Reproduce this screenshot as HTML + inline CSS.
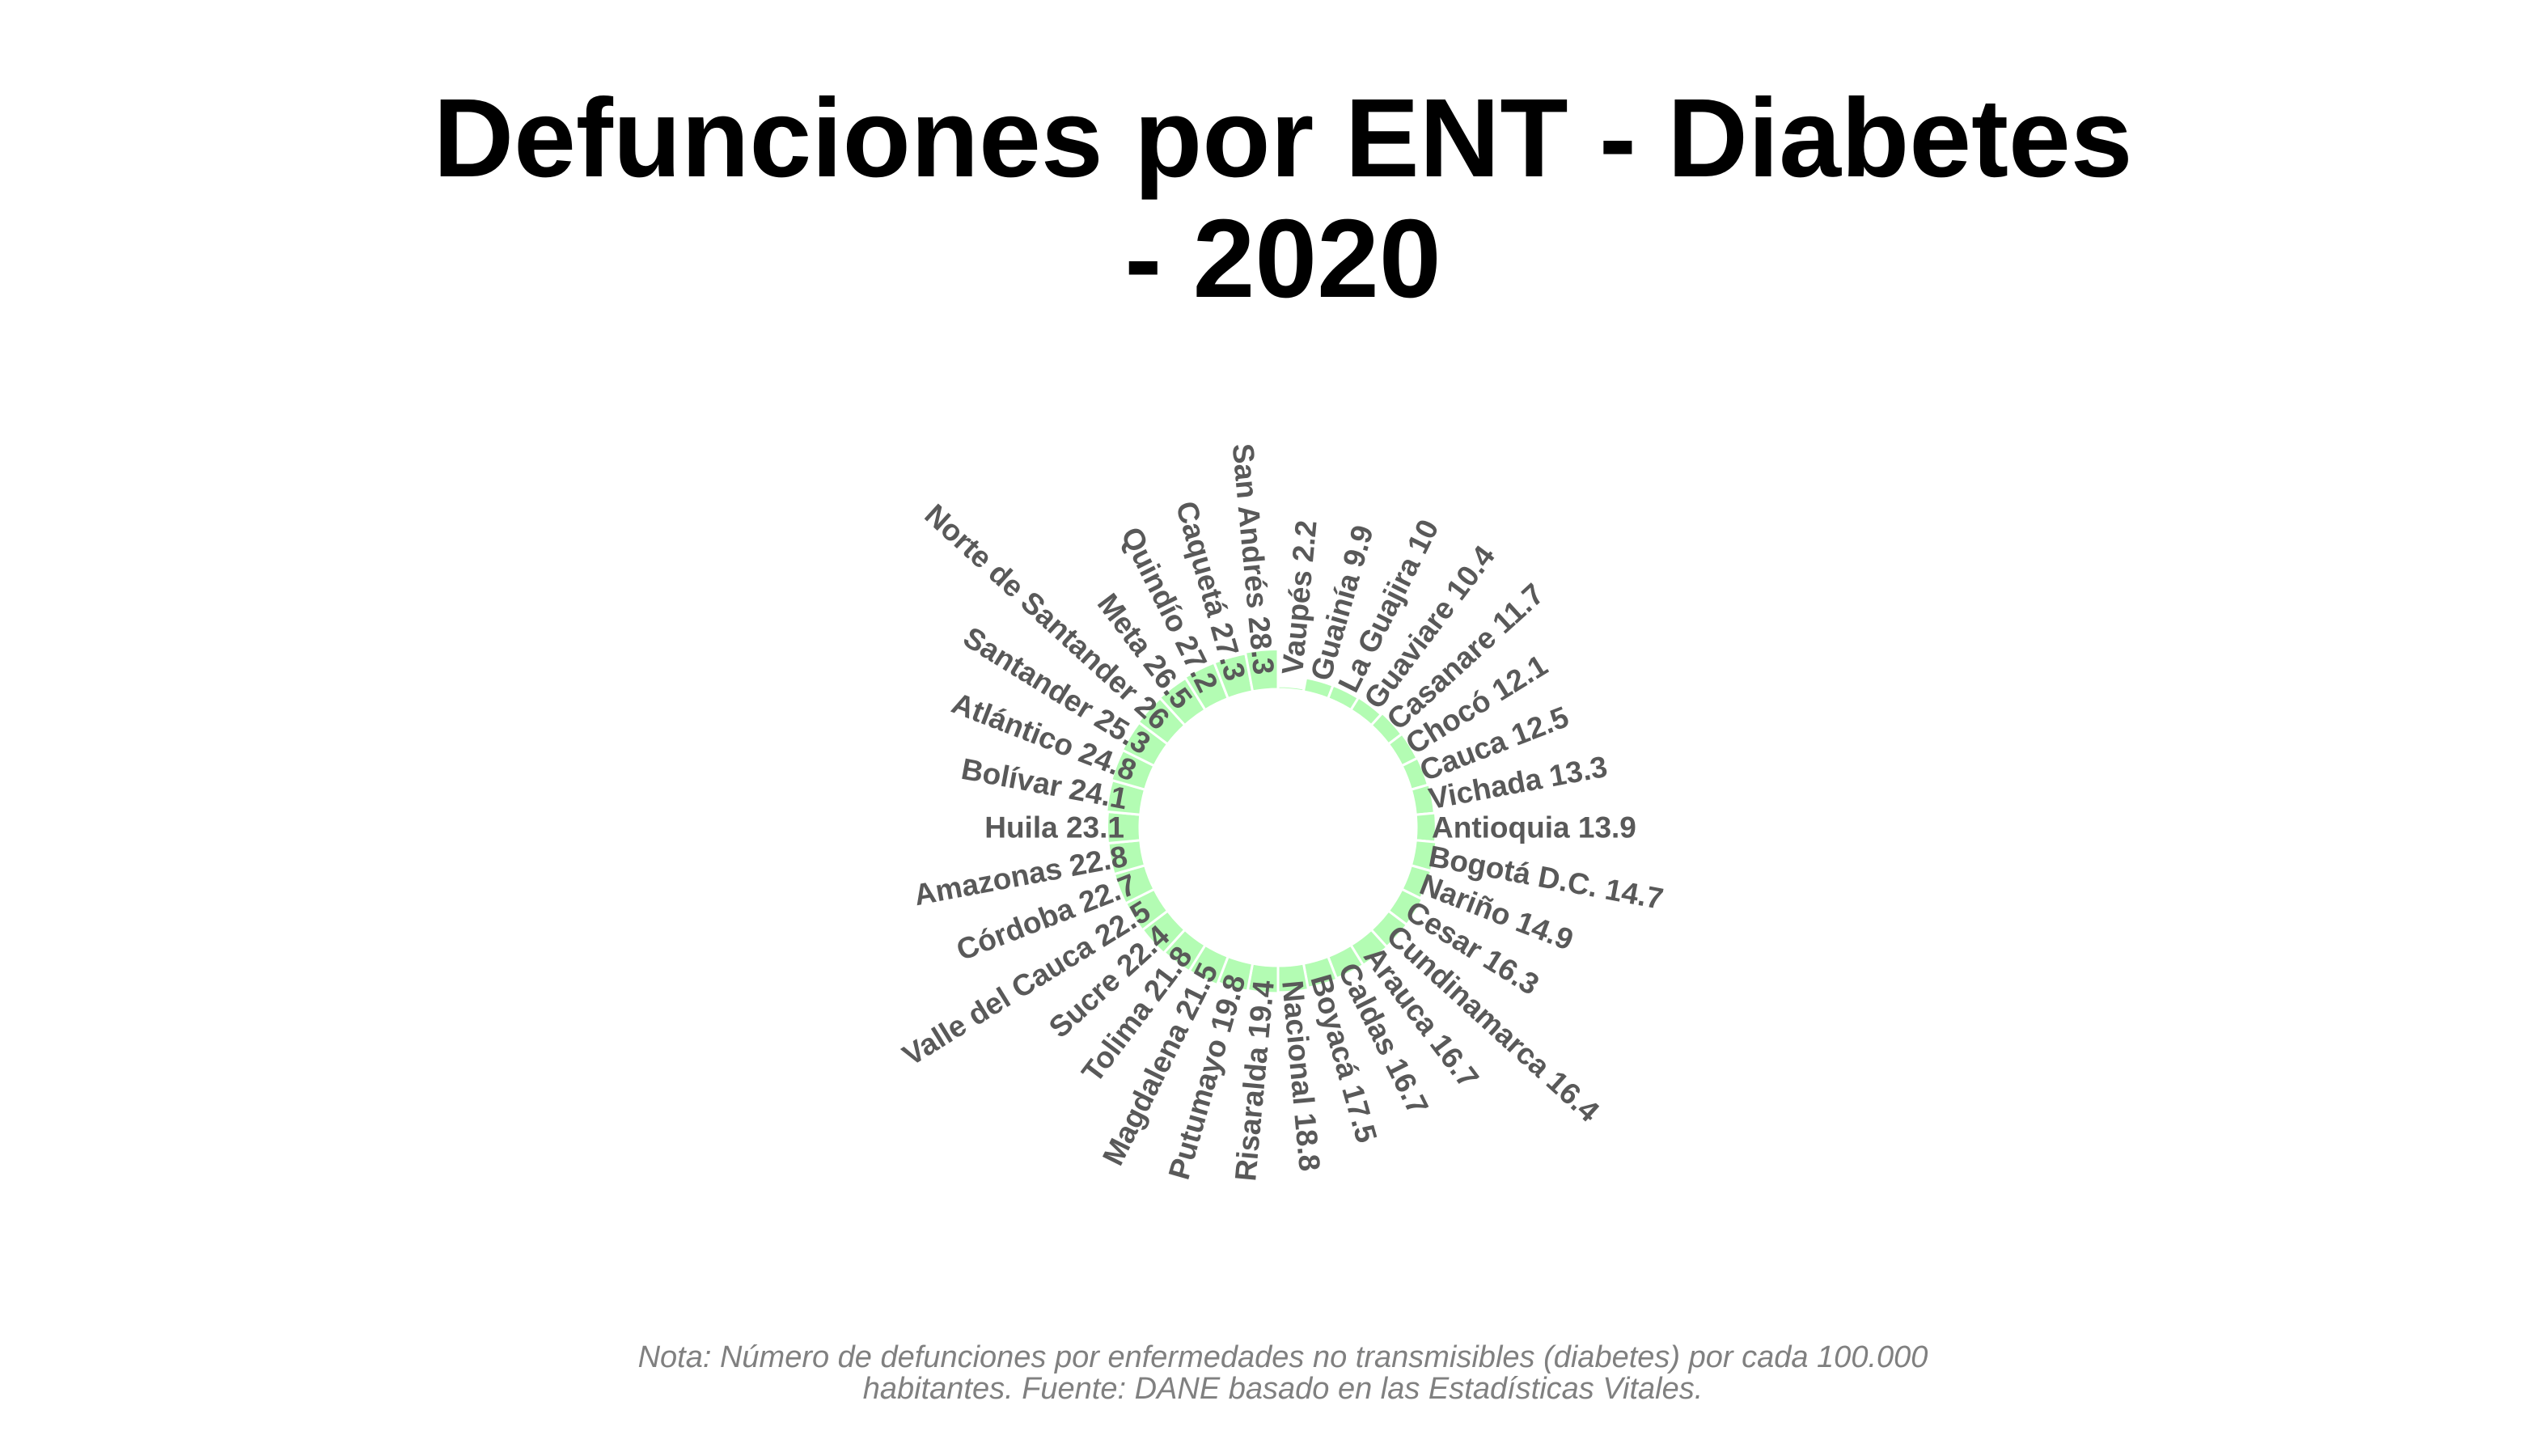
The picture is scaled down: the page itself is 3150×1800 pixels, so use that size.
<!DOCTYPE html>
<html><head><meta charset="utf-8">
<style>
html,body{margin:0;padding:0;background:#fff;}
svg{display:block;}
</style></head>
<body>
<svg id="chart" width="3150" height="1800" viewBox="0 0 3150 1800" xmlns="http://www.w3.org/2000/svg">
<rect width="3150" height="1800" fill="#fff"/>
<text x="1586" y="218" text-anchor="middle" font-family="Liberation Sans, sans-serif" font-weight="bold" font-size="138" fill="#000">Defunciones por ENT - Diabetes</text>
<text x="1586" y="367" text-anchor="middle" font-family="Liberation Sans, sans-serif" font-weight="bold" font-size="138" fill="#000">- 2020</text>
<g id="bars"></g>
<g id="labels"></g>
<text x="1586" y="1690" text-anchor="middle" font-family="Liberation Sans, sans-serif" font-style="italic" font-size="38" fill="#808080">Nota: Número de defunciones por enfermedades no transmisibles (diabetes) por cada 100.000</text>
<text x="1586" y="1729" text-anchor="middle" font-family="Liberation Sans, sans-serif" font-style="italic" font-size="38" fill="#808080">habitantes. Fuente: DANE basado en las Estadísticas Vitales.</text>
</svg>
<script>
const categories = ["Vaupés","Guainía","La Guajira","Guaviare","Casanare","Chocó","Cauca","Vichada","Antioquia","Bogotá D.C.","Nariño","Cesar","Cundinamarca","Arauca","Caldas","Boyacá","Nacional","Risaralda","Putumayo","Magdalena","Tolima","Sucre","Valle del Cauca","Córdoba","Amazonas","Huila","Bolívar","Atlántico","Santander","Norte de Santander","Meta","Quindío","Caquetá","San Andrés"];
const values = [2.2,9.9,10,10.4,11.7,12.1,12.5,13.3,13.9,14.7,14.9,16.3,16.4,16.7,16.7,17.5,18.8,19.4,19.8,21.5,21.8,22.4,22.5,22.7,22.8,23.1,24.1,24.8,25.3,26,26.5,27.2,27.3,28.3];
const valueLabels = ["2.2","9.9","10","10.4","11.7","12.1","12.5","13.3","13.9","14.7","14.9","16.3","16.4","16.7","16.7","17.5","18.8","19.4","19.8","21.5","21.8","22.4","22.5","22.7","22.8","23.1","24.1","24.8","25.3","26","26.5","27.2","27.3","28.3"];

const NS = "http://www.w3.org/2000/svg";
const cx = 1580, cy = 1023, r0 = 171, rScale = 1.75, labelR = 190;
const n = categories.length;
const step = 360 / n;
function angle(i){ return i * step; }
function radius(v){ return r0 + v * rScale; }
function pt(r, deg){ const a = deg * Math.PI / 180; return [cx + r * Math.sin(a), cy - r * Math.cos(a)]; }

const bars = document.getElementById('bars');
const labels = document.getElementById('labels');
for (let i = 0; i < n; i++) {
  const a0 = angle(i), a1 = angle(i + 1), ro = radius(values[i]);
  const p1 = pt(r0, a0), p2 = pt(ro, a0), p3 = pt(ro, a1), p4 = pt(r0, a1);
  const d = `M${p1[0]},${p1[1]} L${p2[0]},${p2[1]} A${ro},${ro} 0 0 1 ${p3[0]},${p3[1]} L${p4[0]},${p4[1]} A${r0},${r0} 0 0 0 ${p1[0]},${p1[1]} Z`;
  const path = document.createElementNS(NS, 'path');
  path.setAttribute('d', d);
  path.setAttribute('fill', '#b3fcb3');
  path.setAttribute('stroke', '#fff');
  path.setAttribute('stroke-width', '3');
  
  
  bars.appendChild(path);

  const mid = (a0 + a1) / 2;
  const lp = pt(labelR, mid);
  const t = document.createElementNS(NS, 'text');
  let rot, anchor;
  if (mid < 180) { rot = mid - 90; anchor = 'start'; } else { rot = mid + 90; anchor = 'end'; }
  t.setAttribute('x', lp[0]);
  t.setAttribute('y', lp[1]);
  t.setAttribute('transform', `rotate(${rot} ${lp[0]} ${lp[1]})`);
  t.setAttribute('text-anchor', anchor);
  t.setAttribute('dominant-baseline', 'central');
  t.setAttribute('font-family', 'Liberation Sans, sans-serif');
  t.setAttribute('font-weight', 'bold');
  t.setAttribute('font-size', '37');
  t.setAttribute('fill', '#595959');
  t.textContent = categories[i] + ' ' + valueLabels[i];
  
  
  labels.appendChild(t);
}
</script>
</body></html>
